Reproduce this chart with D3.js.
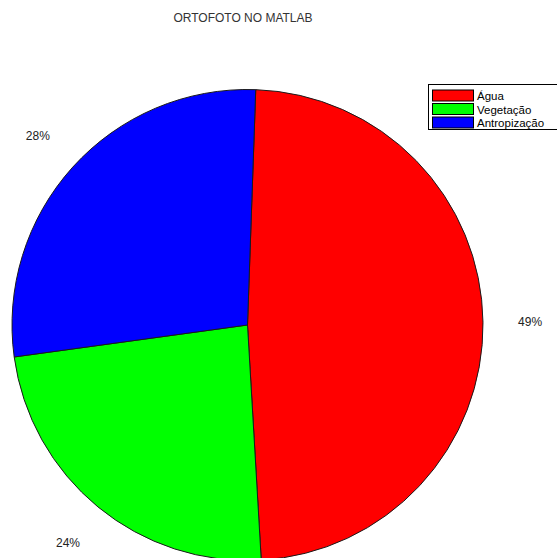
<!DOCTYPE html>
<html>
<head>
<meta charset="utf-8">
<script src="https://cdn.jsdelivr.net/npm/d3@7"></script>
<style>
  html, body { margin: 0; padding: 0; background: #ffffff; }
  svg { display: block; }
  text { font-family: "Liberation Sans", Arial, sans-serif; }
</style>
</head>
<body>
<svg id="chart" width="557" height="558"></svg>
<script>
// Land-cover share from the orthophoto classification
const categories = ["Água", "Vegetação", "Antropização"];
const values = [49, 24, 28];
const labels = ["49%", "24%", "28%"];
const colors = ["#ff0000", "#00ff00", "#0000ff"];
const title = "ORTOFOTO NO MATLAB";

const width = 557, height = 558;
const cx = 247.5, cy = 325, radius = 235.5;
const startAngle = 2 * Math.PI / 180;

const svg = d3.select("#chart");

svg.append("rect")
  .attr("width", width).attr("height", height)
  .attr("fill", "#ffffff");

// title
svg.append("text")
  .attr("x", 243).attr("y", 22)
  .attr("text-anchor", "middle")
  .attr("font-size", 12)
  .attr("fill", "#333333")
  .text(title);

const pie = d3.pie()
  .sort(null)
  .startAngle(startAngle)
  .endAngle(startAngle + 2 * Math.PI)
  .value(d => d);

const arcs = pie(values);

const arc = d3.arc().innerRadius(0).outerRadius(radius);
const labelArc = d3.arc().innerRadius(radius * 1.2).outerRadius(radius * 1.2);

const g = svg.append("g").attr("transform", `translate(${cx},${cy})`);

g.selectAll("path.slice")
  .data(arcs)
  .join("path")
  .attr("class", "slice")
  .attr("d", arc)
  .attr("fill", (d, i) => colors[i])
  .attr("stroke", "#1a1a1a")
  .attr("stroke-width", 1);

g.selectAll("text.pct")
  .data(arcs)
  .join("text")
  .attr("class", "pct")
  .attr("transform", d => {
    const [x, y] = labelArc.centroid(d);
    return `translate(${x},${y})`;
  })
  .attr("text-anchor", "middle")
  .attr("dominant-baseline", "central")
  .attr("font-size", 12)
  .attr("fill", "#222222")
  .text((d, i) => labels[i]);

// legend
const legend = svg.append("g").attr("transform", "translate(428,84)");
legend.append("rect")
  .attr("x", 0.5).attr("y", 0.5)
  .attr("width", 150).attr("height", 45)
  .attr("fill", "#ffffff")
  .attr("stroke", "#000000")
  .attr("stroke-width", 1);

const rowY = d3.scalePoint().domain(categories).range([11.5, 38.5]);

const rows = legend.selectAll("g.row")
  .data(categories)
  .join("g")
  .attr("class", "row")
  .attr("transform", d => `translate(0,${rowY(d)})`);

rows.append("rect")
  .attr("x", 4.5).attr("y", -5.5)
  .attr("width", 41).attr("height", 11)
  .attr("fill", (d, i) => colors[i])
  .attr("stroke", "#000000")
  .attr("stroke-width", 1);

rows.append("text")
  .attr("x", 49).attr("y", 0.5)
  .attr("dominant-baseline", "central")
  .attr("font-size", 11.5)
  .attr("textLength", null)
  .attr("fill", "#000000")
  .text(d => d);
</script>
</body>
</html>
